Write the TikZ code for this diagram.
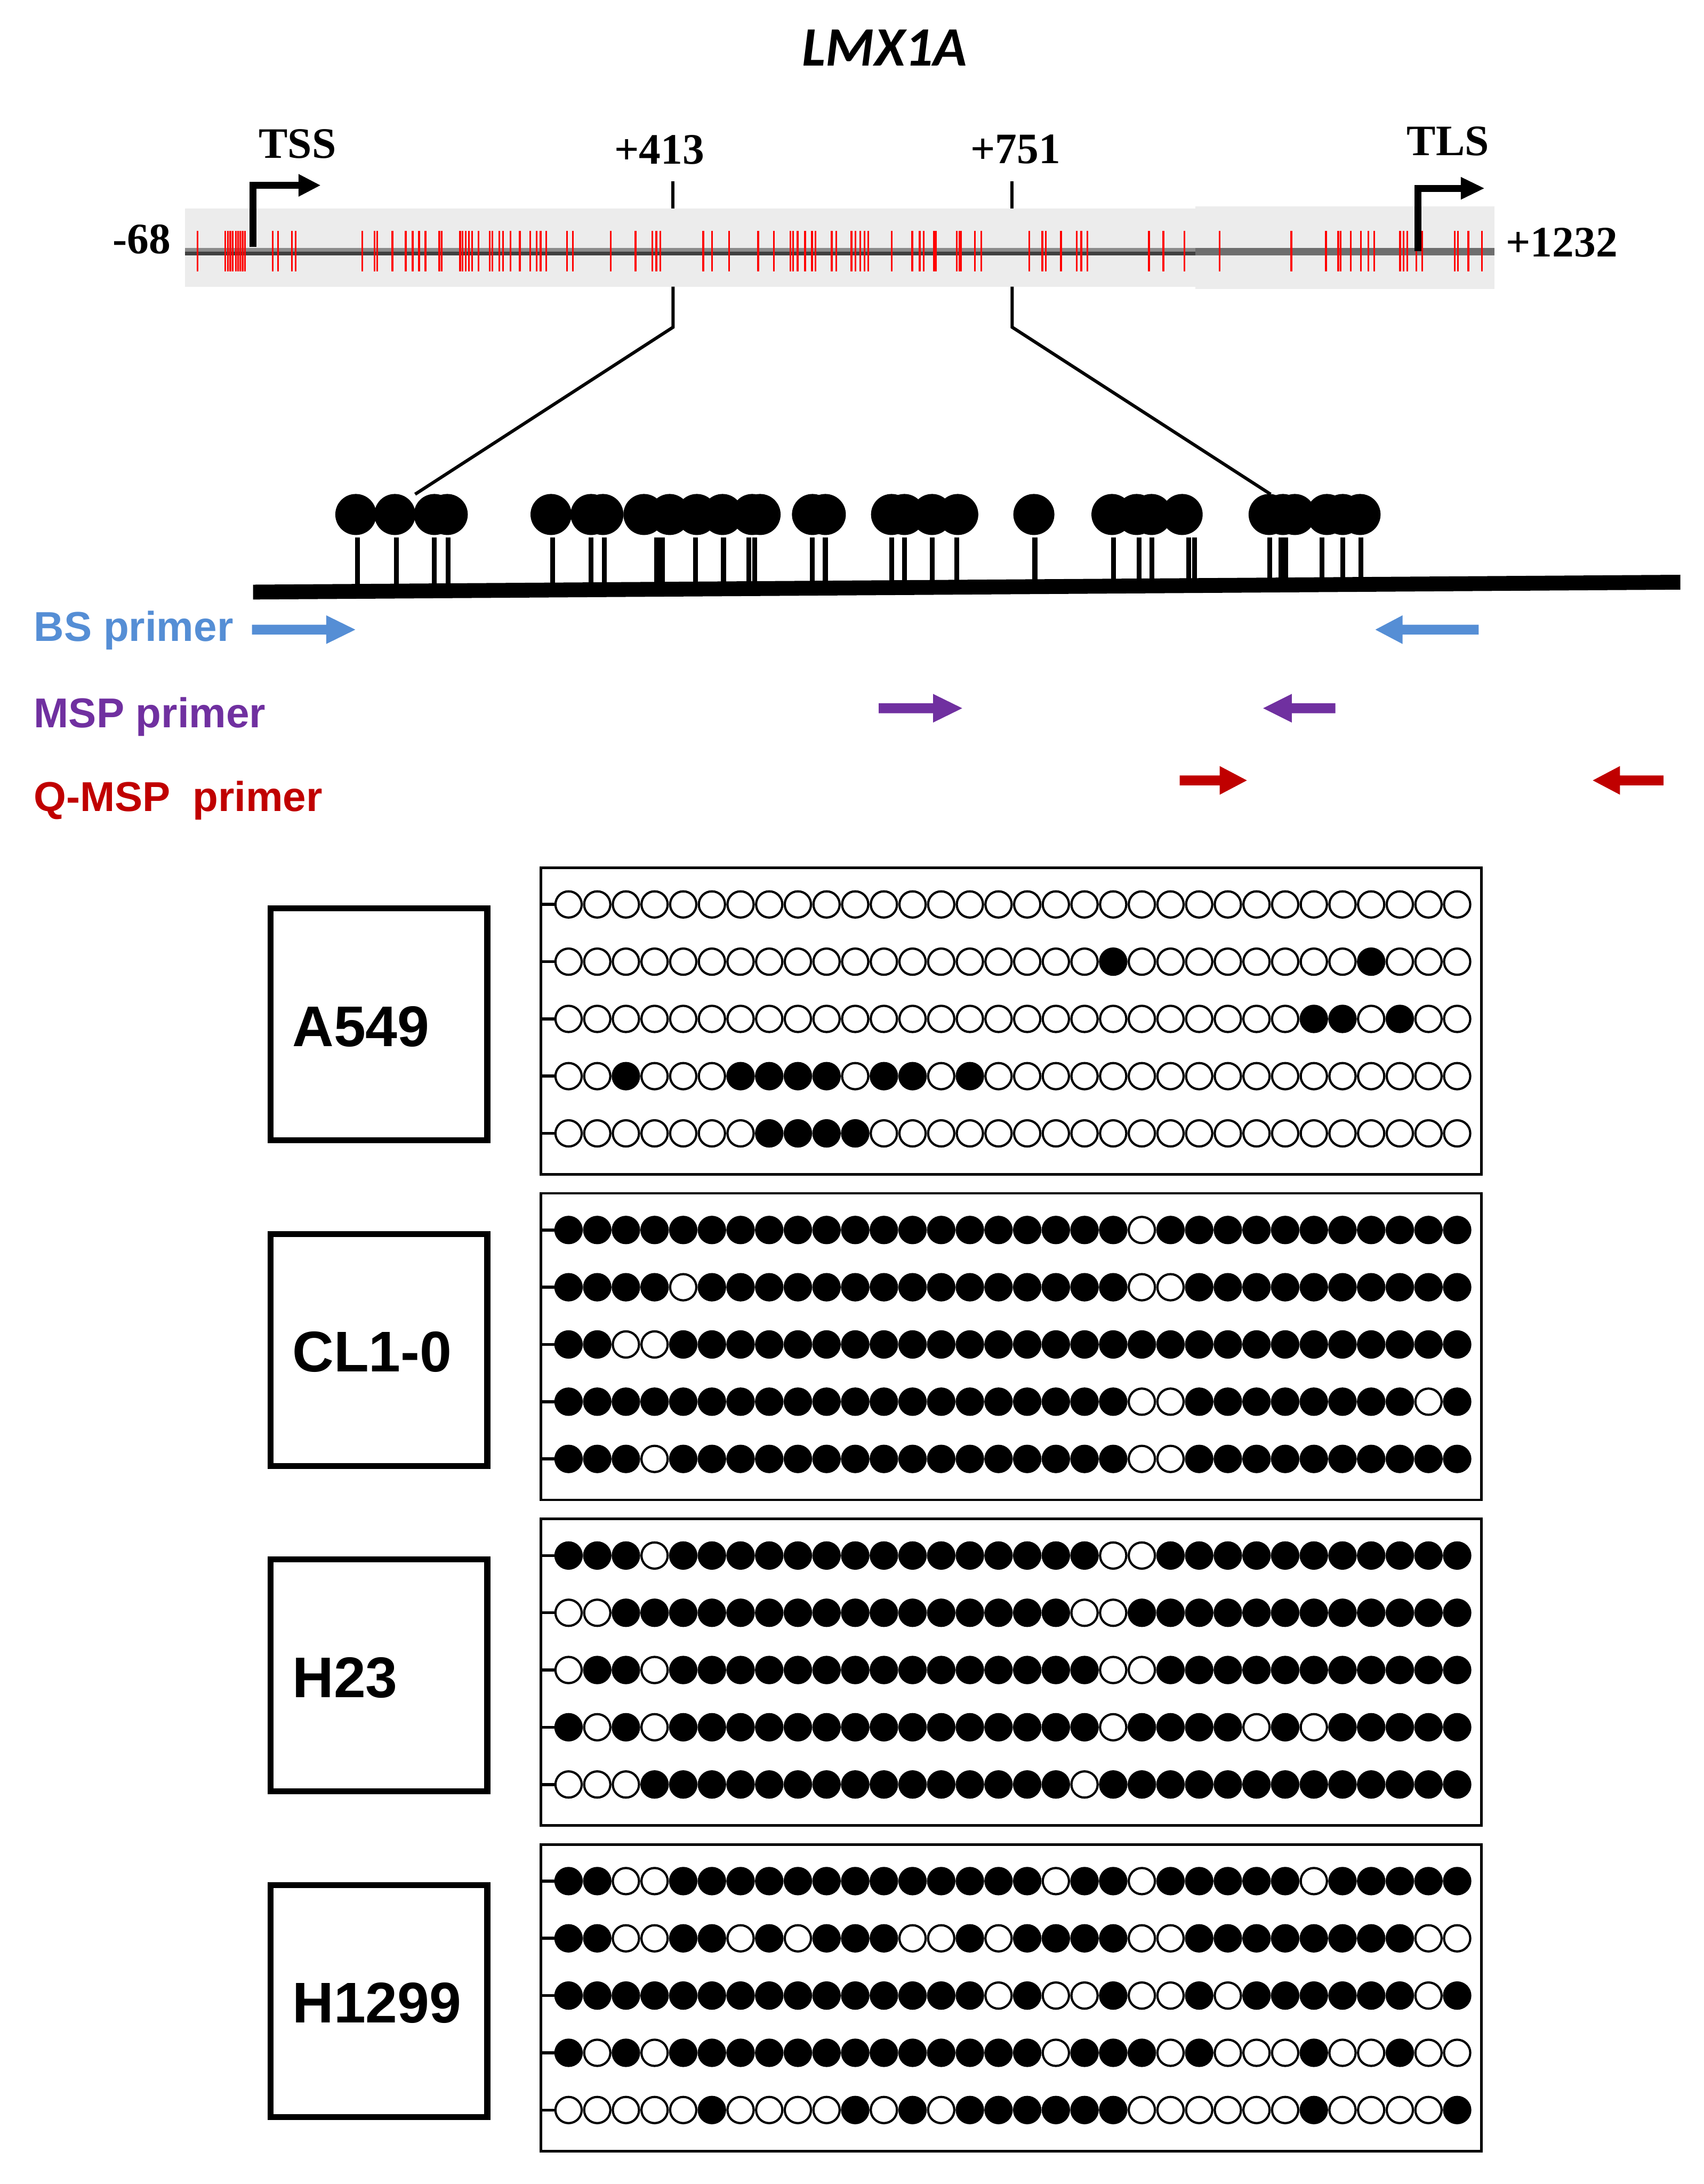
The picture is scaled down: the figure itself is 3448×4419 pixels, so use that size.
\documentclass[tikz,border=0pt]{standalone}
\usepackage{fontspec}
\setmainfont{Liberation Serif}
\setsansfont{Liberation Sans}
\newfontfamily\calib{Carlito}
\usetikzlibrary{arrows.meta}
\definecolor{bsblue}{RGB}{85,142,213}
\definecolor{msppurple}{RGB}{112,48,160}
\definecolor{qred}{RGB}{192,0,0}
\definecolor{cpgred}{RGB}{255,0,0}
\definecolor{bargray}{RGB}{236,236,236}
\definecolor{linelight}{RGB}{140,140,140}
\definecolor{linedark}{RGB}{64,64,64}
\definecolor{linemid}{RGB}{110,110,110}
\tikzset{
  labelbox/.style={draw=black, line width=0.12cm, minimum width=4.38cm, minimum height=4.69cm, inner sep=0pt},
  databox/.style={draw=black, line width=0.05cm, minimum width=19.02cm, minimum height=6.2cm, inner sep=0pt},
  labeltext/.style={anchor=base west, inner sep=0pt, font=\sffamily\bfseries\fontsize{33}{40}\selectfont},
  postext/.style={anchor=base, inner sep=0pt, font=\rmfamily\bfseries\fontsize{25}{30}\selectfont},
  primertext/.style={anchor=base west, inner sep=0pt, font=\sffamily\bfseries\fontsize{24}{29}\selectfont},
  stub/.style={line width=0.06cm},
  cpgtick/.style={draw=cpgred, line width=0.035cm},
  stem/.style={line width=0.1cm},
  zoomline/.style={line width=0.065cm},
}
\newcommand{\primerarrow}[5]{% xs, xb, xt, y, colour
  \fill[#5] (#1,#4-10) -- (#2,#4-10) -- (#2,#4-29) -- (#3,#4) -- (#2,#4+29) -- (#2,#4+10) -- (#1,#4+10) -- cycle;}
\newcommand{\mpanel}[4]{%
  \node[labelbox] (lab#1) at (767,#2+316.5) {};
  \node[labeltext] (txt#1) at (591,#2+361) {#3};
  \node[databox] (data#1) at (2046,#2+310) {};
  \foreach \pat [count=\rw from 0] in {#4} {%
    \pgfmathsetmacro{\yy}{#2+74+115.8*\rw}
    \draw[stub] (1095,\yy) -- (1124,\yy);
    \foreach \vv [count=\ii from 0] in \pat {%
      \ifnum\vv=1\relax\def\fc{black}\else\def\fc{white}\fi
      \filldraw[fill=\fc, draw=black, line width=0.045cm] (1150.5+58*\ii,\yy) circle[radius=0.265cm];
    }
  }
}
\begin{document}
\begin{tikzpicture}[x=0.01cm,y=-0.01cm]
\useasboundingbox (0,0) rectangle (3448,4419);

% title
\node[anchor=base, inner sep=0pt, font=\calib\bfseries\itshape\fontsize{32}{38}\selectfont] (title) at (1790,133) {LMX1A};

% gene bar
\fill[bargray] (374,422) rectangle (2419,580);
\fill[bargray] (2419,417) rectangle (3024,585);
\fill[linelight] (374,502) rectangle (2419,509);
\fill[linedark] (374,509) rectangle (2419,517);
\fill[linemid] (2419,502) rectangle (3024,517);
\foreach \x in {400,456,461,466,471,477,482,486,491,496,552,563,591,598,733,758,763,794,821,835,848,861,889,894,931,936,942,949,955,968,991,996,1010,1018,1033,1052,1073,1086,1094,1105,1147,1159,1236,1286,1320,1328,1336,1423,1441,1475,1534,1566,1599,1605,1614,1629,1643,1650,1683,1692,1723,1731,1741,1749,1757,1804,1846,1861,1869,1890,1894,1936,1941,1945,1973,1986,2083,2109,2116,2147,2179,2188,2200,2325,2354,2397,2468,2613,2683,2708,2713,2733,2754,2769,2781,2833,2840,2848,2866,2878,2944,2950,2971,2999}
  \draw[cpgtick] (\x,467) -- (\x,549);

% position labels
\node[postext] (tss) at (602,320) {TSS};
\node[postext] (tls) at (2930,315) {TLS};
\node[postext] (p413) at (1334,332) {+413};
\node[postext] (p751) at (2055,331) {+751};
\node[postext] (m68) at (287,513) {-68};
\node[postext] (p1232) at (3160,520) {+1232};

% TSS / TLS arrows
\draw[line width=0.14cm, line join=miter] (512,500) |- (608,375);
\fill (604,352) -- (648,375) -- (604,398) -- cycle;
\draw[line width=0.14cm, line join=miter] (2869,508) |- (2960,381);
\fill (2956,358) -- (3003,381) -- (2956,404) -- cycle;

% ticks and zoom connectors
\coordinate (t413a) at (1362,367);
\coordinate (t413b) at (1362,422);
\coordinate (t413c) at (1362,580);
\coordinate (t413d) at (1362,662);
\coordinate (z413) at (840,1000);
\coordinate (t751a) at (2048,367);
\coordinate (t751b) at (2048,422);
\coordinate (t751c) at (2048,580);
\coordinate (t751d) at (2048,662);
\coordinate (z751) at (2571,1000);
\draw[zoomline] (t413a) -- (t413b);
\draw[zoomline] (t751a) -- (t751b);
\draw[zoomline] (t413c) -- (t413d) -- (z413);
\draw[zoomline] (t751c) -- (t751d) -- (z751);

% lollipops
\foreach \x in {723,802,879,907,1118,1196,1223,1329,1340,1407,1464,1515,1527,1644,1670,1804,1830,1886,1936,2094,2253,2305,2331,2405,2417,2569,2592,2602,2675,2717,2754}
  \draw[stem] (\x,1088) -- (\x,1195);
\foreach \x in {720,799,879,905,1115,1196,1220,1303,1355,1410,1462,1522,1538,1644,1670,1804,1830,1886,1938,2092,2250,2300,2330,2392,2568,2596,2620,2685,2717,2752}
  \fill (\x,1041) circle[radius=0.415cm];
\fill (512,1183) -- (3400,1163) -- (3400,1193) -- (512,1213) -- cycle;

% primers
\node[primertext, text=bsblue] (bs) at (68,1297) {BS primer};
\node[primertext, text=msppurple] (msp) at (68,1472) {MSP primer};
\node[primertext, text=qred] (qmsp) at (68,1642) {Q-MSP\hspace{0.25em} primer};
\primerarrow{510}{660}{719}{1274}{bsblue}
\primerarrow{2992}{2838}{2783}{1274}{bsblue}
\primerarrow{1778}{1888}{1947}{1433}{msppurple}
\primerarrow{2702}{2614}{2556}{1433}{msppurple}
\primerarrow{2387}{2468}{2523}{1579}{qred}
\primerarrow{3366}{3278}{3223}{1579}{qred}

% methylation panels
\mpanel{1}{1756}{A549}{%
{0,0,0,0,0,0,0,0,0,0,0,0,0,0,0,0,0,0,0,0,0,0,0,0,0,0,0,0,0,0,0,0},%
{0,0,0,0,0,0,0,0,0,0,0,0,0,0,0,0,0,0,0,1,0,0,0,0,0,0,0,0,1,0,0,0},%
{0,0,0,0,0,0,0,0,0,0,0,0,0,0,0,0,0,0,0,0,0,0,0,0,0,0,1,1,0,1,0,0},%
{0,0,1,0,0,0,1,1,1,1,0,1,1,0,1,0,0,0,0,0,0,0,0,0,0,0,0,0,0,0,0,0},%
{0,0,0,0,0,0,0,1,1,1,1,0,0,0,0,0,0,0,0,0,0,0,0,0,0,0,0,0,0,0,0,0}}
\mpanel{2}{2414.7}{CL1-0}{%
{1,1,1,1,1,1,1,1,1,1,1,1,1,1,1,1,1,1,1,1,0,1,1,1,1,1,1,1,1,1,1,1},%
{1,1,1,1,0,1,1,1,1,1,1,1,1,1,1,1,1,1,1,1,0,0,1,1,1,1,1,1,1,1,1,1},%
{1,1,0,0,1,1,1,1,1,1,1,1,1,1,1,1,1,1,1,1,1,1,1,1,1,1,1,1,1,1,1,1},%
{1,1,1,1,1,1,1,1,1,1,1,1,1,1,1,1,1,1,1,1,0,0,1,1,1,1,1,1,1,1,0,1},%
{1,1,1,0,1,1,1,1,1,1,1,1,1,1,1,1,1,1,1,1,0,0,1,1,1,1,1,1,1,1,1,1}}
\mpanel{3}{3073.4}{H23}{%
{1,1,1,0,1,1,1,1,1,1,1,1,1,1,1,1,1,1,1,0,0,1,1,1,1,1,1,1,1,1,1,1},%
{0,0,1,1,1,1,1,1,1,1,1,1,1,1,1,1,1,1,0,0,1,1,1,1,1,1,1,1,1,1,1,1},%
{0,1,1,0,1,1,1,1,1,1,1,1,1,1,1,1,1,1,1,0,0,1,1,1,1,1,1,1,1,1,1,1},%
{1,0,1,0,1,1,1,1,1,1,1,1,1,1,1,1,1,1,1,0,1,1,1,1,0,1,0,1,1,1,1,1},%
{0,0,0,1,1,1,1,1,1,1,1,1,1,1,1,1,1,1,0,1,1,1,1,1,1,1,1,1,1,1,1,1}}
\mpanel{4}{3732.1}{H1299}{%
{1,1,0,0,1,1,1,1,1,1,1,1,1,1,1,1,1,0,1,1,0,1,1,1,1,1,0,1,1,1,1,1},%
{1,1,0,0,1,1,0,1,0,1,1,1,0,0,1,0,1,1,1,1,0,0,1,1,1,1,1,1,1,1,0,0},%
{1,1,1,1,1,1,1,1,1,1,1,1,1,1,1,0,1,0,0,1,0,0,1,0,1,1,1,1,1,1,0,1},%
{1,0,1,0,1,1,1,1,1,1,1,1,1,1,1,1,1,0,1,1,1,0,1,0,0,0,1,0,0,1,0,0},%
{0,0,0,0,0,1,0,0,0,0,1,0,1,0,1,1,1,1,1,1,0,0,0,0,0,0,1,0,0,0,0,1}}
\end{tikzpicture}
\end{document}
